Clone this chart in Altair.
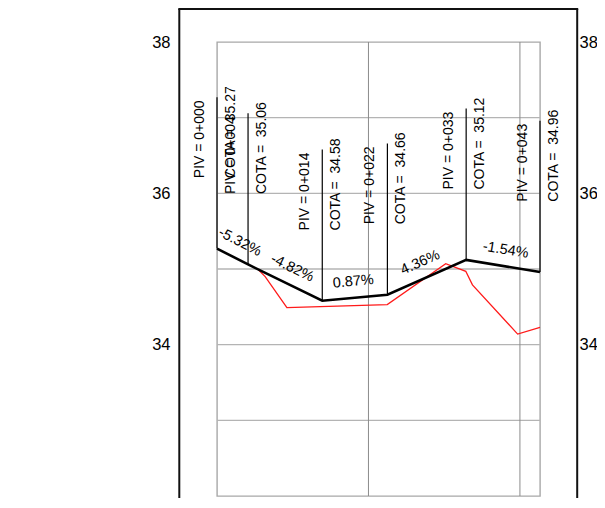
import math
import altair as alt
import pandas as pd

# ---------------- data ----------------
PIV_STATION = [0.0, 4.1, 13.9, 22.5, 32.9, 42.65]
PIV_LABEL = ["0+000", "0+004", "0+014", "0+022", "0+033", "0+043"]
PIV_COTA = [35.27, 35.06, 34.58, 34.66, 35.12, 34.96]
SLOPE_LABEL = ["-5.32%", "-4.82%", "0.87%", "4.36%", "-1.54%"]

GROUND_STATION = [5.47, 6.36, 9.23, 22.48, 30.2, 32.85, 33.73, 39.7, 42.65]
GROUND_ELEV = [34.99, 34.90, 34.49, 34.53, 35.07, 34.97, 34.79, 34.14, 34.23]

GRID_ELEV = [33, 34, 35, 36, 37]
GRID_STATION = [20, 40]
AXIS_LABELS = [34, 36, 38]

X_DOMAIN = [0, 42.65]
Y_DOMAIN = [32, 38]

# ---------------- layout / style ----------------
W, H = 323, 454
PAD = {"left": 209, "top": 34, "right": 57, "bottom": 2}
FONT = "Liberation Sans, Arial, Helvetica, sans-serif"
LINE_UP = 2.0      # height of the PIV marker lines (m)
TEXT_UP = 0.93     # where the PIV texts start above the profile (m)

px_x = W / (X_DOMAIN[1] - X_DOMAIN[0])
px_y = H / (Y_DOMAIN[1] - Y_DOMAIN[0])

piv = pd.DataFrame({
    "station": PIV_STATION,
    "cota": PIV_COTA,
    "top": [c + LINE_UP for c in PIV_COTA],
    "txt": [c + TEXT_UP for c in PIV_COTA],
    "piv_label": ["PIV = " + s for s in PIV_LABEL],
    "cota_label": ["COTA = \u00a0" + f"{c:.2f}" for c in PIV_COTA],
})

rows = []
for i, lab in enumerate(SLOPE_LABEL):
    s0, s1 = PIV_STATION[i], PIV_STATION[i + 1]
    c0, c1 = PIV_COTA[i], PIV_COTA[i + 1]
    ang = math.degrees(math.atan2(-(c1 - c0) * px_y, (s1 - s0) * px_x)) % 360
    rows.append({"station": (s0 + s1) / 2, "elev": (c0 + c1) / 2,
                 "angle": ang, "label": lab})
slopes = pd.DataFrame(rows)

ground = pd.DataFrame({"station": GROUND_STATION, "elev": GROUND_ELEV})
hgrid = pd.DataFrame({"elev": GRID_ELEV})
vgrid = pd.DataFrame({"station": GRID_STATION})
one = pd.DataFrame({"k": [0]})

xs = alt.Scale(domain=X_DOMAIN, nice=False, zero=False)
ys = alt.Scale(domain=Y_DOMAIN, nice=False, zero=False)

def X(f):
    return alt.X(f"{f}:Q", scale=xs, axis=None)

def Y(f, axis=None):
    return alt.Y(f"{f}:Q", scale=ys, axis=axis)

axis_common = dict(values=AXIS_LABELS, ticks=False, tickSize=0, domain=False,
                   grid=False, title=None, labelFont=FONT, labelFontSize=16.5,
                   labelColor="#000000")
left_axis = alt.Axis(orient="left", labelPadding=47, **axis_common)
right_axis = alt.Axis(orient="right", labelPadding=39, **axis_common)

hgrid_layer = alt.Chart(hgrid).mark_rule(color="#b4b4b4", strokeWidth=1.4).encode(
    y=Y("elev", left_axis))
vgrid_layer = alt.Chart(vgrid).mark_rule(color="#8c8c8c", strokeWidth=1).encode(
    x=X("station"))

FL, FR, FT, FB = -37.7, W + 37.2, -33, H + 40
frame_style = dict(color="#111111", strokeWidth=2)
frame_left = alt.Chart(one).mark_rule(**frame_style).encode(
    x=alt.value(FL), y=alt.value(FT), y2=alt.value(FB))
frame_right = alt.Chart(one).mark_rule(**frame_style).encode(
    x=alt.value(FR), y=alt.value(FT), y2=alt.value(FB))
frame_top = alt.Chart(one).mark_rule(**frame_style).encode(
    x=alt.value(FL - 1), x2=alt.value(FR + 1), y=alt.value(FT))

piv_lines = alt.Chart(piv).mark_rule(color="#000000", strokeWidth=1.2).encode(
    x=X("station"), y=Y("cota"), y2="top:Q")

ground_line = alt.Chart(ground).mark_line(color="#ff1a1a", strokeWidth=1.3).encode(
    x=X("station"), y=Y("elev", right_axis), order="station:Q")

profile_line = alt.Chart(piv).mark_line(color="#000000", strokeWidth=2.6).encode(
    x=X("station"), y=Y("cota"), order="station:Q")

piv_text = alt.Chart(piv).mark_text(
    angle=270, align="left", baseline="alphabetic", dy=-13,
    font=FONT, fontSize=14, color="#000000").encode(
    x=X("station"), y=Y("txt"), text="piv_label:N")

cota_text = alt.Chart(piv).mark_text(
    angle=270, align="left", baseline="alphabetic", dy=17.5,
    font=FONT, fontSize=14, color="#000000").encode(
    x=X("station"), y=Y("txt"), text="cota_label:N")

slope_text = alt.Chart(slopes).mark_text(
    align="center", baseline="middle", dy=-16,
    font=FONT, fontSize=14.5, color="#000000").encode(
    x=X("station"), y=Y("elev"), text="label:N",
    angle=alt.Angle("angle:Q", scale=None))

chart = alt.layer(
    hgrid_layer, vgrid_layer, frame_left, frame_right, frame_top,
    piv_lines, ground_line, profile_line, piv_text, cota_text, slope_text,
).resolve_axis(y="independent").properties(
    width=W, height=H,
    autosize=alt.AutoSizeParams(type="none"),
    padding=PAD,
    background="#ffffff",
).configure_view(stroke="#a8a8a8", strokeWidth=1.4)

chart.save("out.html", embed_options={"renderer": "svg", "actions": False})
